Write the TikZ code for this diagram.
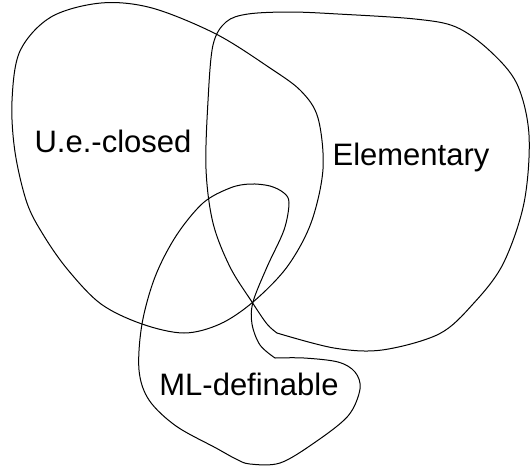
\documentclass[tikz,border=0pt]{standalone}
\usepackage{fontspec}
\setmainfont{Liberation Sans}
\begin{document}
\begin{tikzpicture}[x=1pt,y=-1pt,
  blob/.style={draw=black,line width=1pt},
  lbl/.style={font=\fontsize{31}{36}\selectfont,anchor=base,inner sep=0pt}]
\useasboundingbox (0,0) rectangle (530,467);
% U.e.-closed
\draw[blob] plot[smooth cycle,tension=0.55] coordinates {
 (101,3) (152,8) (216,34) (270,68) (301,91) (318,118) (323,169) (311,223)
 (287,267) (253,302) (220,324) (184,333) (142,324) (101,304) (68,270)
 (44,236) (27,203) (15,152) (12,101) (20,51) (51,17)};
% Elementary
\draw[blob] plot[smooth,tension=0.55] coordinates {
 (277,333) (334,348) (382,350) (439,334) (473,304) (503,264) (524,203)
 (529,135) (517,84) (490,51) (456,27) (415,19) (338,14) (290,12) (248,14)
 (226,22) (213,45) (208,101) (206,169) (213,223) (230,267) (252,302) (267,324) (277,333)};
% ML-definable
\draw[blob] plot[smooth,tension=0.55] coordinates {
 (275,358) (304,358) (338,362) (355,372) (360,389) (348,416) (314,443)
 (280,463) (250,464) (236,459) (216,448) (176,426) (149,400) (139,370)
 (142,324) (155,277) (176,236) (203,203) (230,188) (250,184) (270,186)
 (284,193) (289,203) (284,230) (267,267) (253,302) (252,324) (260,345) (275,358)};
\node[lbl] (ue) at (113,152) {U.e.-closed};
\node[lbl] (el) at (411,165) {Elementary};
\node[lbl] (ml) at (249,395) {ML-definable};
\end{tikzpicture}
\end{document}
